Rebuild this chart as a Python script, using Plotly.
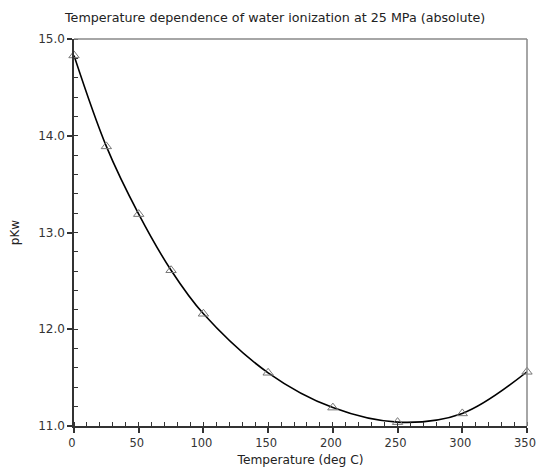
import plotly.graph_objects as go

temperature = [0, 25, 50, 75, 100, 150, 200, 250, 300, 350]
pkw = [14.83, 13.89, 13.19, 12.61, 12.16, 11.55, 11.19, 11.04, 11.13, 11.56]

x_ticks = [0, 50, 100, 150, 200, 250, 300, 350]
y_ticks = [11.0, 12.0, 13.0, 14.0, 15.0]
y_tick_labels = ["11.0", "12.0", "13.0", "14.0", "15.0"]

fig = go.Figure()
fig.add_trace(go.Scatter(
    x=temperature, y=pkw, mode="lines",
    line=dict(color="black", width=1.6, shape="spline", smoothing=1.0),
    cliponaxis=False, hoverinfo="skip", showlegend=False,
))
fig.add_trace(go.Scatter(
    x=temperature, y=pkw, mode="markers",
    marker=dict(symbol="triangle-up-open", size=9, color="#777777", line=dict(width=1)),
    cliponaxis=False, showlegend=False,
))

fam = "DejaVu Sans"
fig.update_layout(
    width=538, height=467,
    margin=dict(l=74, r=11, t=39, b=41),
    paper_bgcolor="white", plot_bgcolor="white",
    font=dict(family=fam, size=12, color="#222222"),
    showlegend=False,
    annotations=[dict(
        text="Temperature dependence of water ionization at 25 MPa (absolute)",
        xref="paper", yref="paper", x=(274.5 - 74) / 453, y=1.0, yshift=22,
        xanchor="center", yanchor="middle", showarrow=False,
        font=dict(family=fam, size=12.7, color="#222222"),
    )],
)
fig.update_xaxes(
    range=[0, 350], tickvals=x_ticks, automargin=False,
    showgrid=False, zeroline=False,
    showline=True, linecolor="#333333", linewidth=1.5,
    ticks="outside", ticklen=5, tickcolor="#333333", tickwidth=1.5,
    ticklabeloverflow="allow", ticklabelshift=-2,
    minor=dict(dtick=10, ticks="inside", ticklen=4, tickcolor="#333333", tickwidth=1.2),
    title=dict(text="Temperature (deg C)", font=dict(family=fam, size=12.2, color="#222222"), standoff=21),
    tickfont=dict(family=fam, size=11.5, color="#333333"),
)
fig.update_yaxes(
    range=[11, 15], tickvals=y_ticks, ticktext=y_tick_labels, automargin=False,
    showgrid=False, zeroline=False,
    showline=True, linecolor="#333333", linewidth=1.5,
    ticks="outside", ticklen=5, tickcolor="#333333", tickwidth=1.5,
    minor=dict(dtick=0.2, ticks="inside", ticklen=4, tickcolor="#333333", tickwidth=1.2),
    title=dict(text="pKw", font=dict(family=fam, size=12, color="#222222"), standoff=16),
    tickfont=dict(family=fam, size=12, color="#333333"),
)
# top and right frame lines (gray)
fig.add_shape(type="line", xref="paper", yref="paper", x0=0, x1=1, y0=1, y1=1,
              line=dict(color="#888888", width=1.5))
fig.add_shape(type="line", xref="paper", yref="paper", x0=1, x1=1, y0=0, y1=1,
              line=dict(color="#888888", width=1.5))

fig.write_html(
    "out.html",
    config={"displayModeBar": False},
    post_script="document.body.style.margin='0';document.body.style.overflow='hidden';",
)
